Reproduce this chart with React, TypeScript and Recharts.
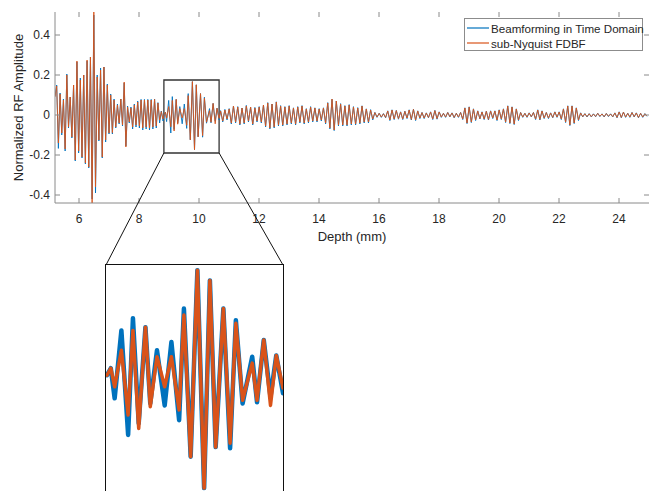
import { LineChart, Line, XAxis, YAxis, ReferenceArea } from "recharts";

// ---- data ----

const depthTicks = [6, 8, 10, 12, 14, 16, 18, 20, 22, 24];
const ampTicks = [-0.4, -0.2, 0, 0.2, 0.4];

// 5.2 mm -> 8.8 mm, evenly spaced extrema
const segAStart = 5.2;
const segAEnd = 8.8;
const fdbfA = [
  .09, .145, -.14, .105, -.09, .075, -.17, .2, -.06, .09, -.11, .15, -.225, .27, -.18, .175,
  -.21, .2, -.24, .275, -.26, .29, -.45, .52, -.36, .19, -.125, .225, -.21, .24, -.125, .15,
  -.09, .1, -.088, .075, -.06, .05, -.04, .08, -.05, .165, -.16, .04, -.035, .035, -.06, .05,
  -.05, .065, -.055, .075, -.065, .075, -.06, .075, -.065, .075, -.06, .078, -.055, .06, -.025,
  .017, -.02,
];
const tdbfA = [
  .095, .15, -.167, .11, -.1, .08, -.18, .205, -.065, .09, -.115, .15, -.23, .265, -.19, .185,
  -.215, .2, -.245, .27, -.265, .29, -.42, .5, -.39, .2, -.13, .235, -.215, .24, -.135, .155,
  -.095, .105, -.095, .08, -.065, .055, -.045, .08, -.055, .16, -.155, .045, -.04, .04, -.07,
  .055, -.06, .07, -.065, .078, -.075, .078, -.07, .078, -.075, .078, -.07, .08, -.065, .062,
  -.04, .02, -.03,
];

// zoomed window (also drawn in the inset)
const zoomDepth = [
  8.84, 8.88, 8.92, 8.99, 9.06, 9.11, 9.17, 9.24, 9.29, 9.36, 9.44, 9.51, 9.59, 9.64, 9.71,
  9.78, 9.85, 9.91, 9.97, 10.05, 10.12, 10.18, 10.25, 10.35, 10.4, 10.47, 10.54, 10.6, 10.67,
];
const zoomFdbf = [
  .003, .014, -.015, .042, -.059, .073, -.08, .078, -.046, .032, -.015, .032, -.051, .097,
  -.124, .167, -.173, .151, -.109, .107, -.103, .084, -.036, .022, -.036, .058, -.044, .034,
  -.017,
];
const zoomTdbf = [
  .003, .014, -.033, .073, -.09, .092, -.072, .078, -.041, .042, -.044, .055, -.067, .107,
  -.124, .167, -.173, .151, -.109, .107, -.111, .089, -.041, .032, -.039, .058, -.031, .034,
  -.025,
];

// 10.72 mm onwards, 14 extrema per mm
const segBStart = 10.72;
const segBStep = 1 / 14;
const fdbfB = [
  .02, -.03, .025, -.02,
  .03, -.04, .045, -.035, .04, -.045, .035, -.04, .045, -.03, .04, -.045, .035, -.03, // 11
  .04, -.035, .05, -.055, .06, -.065, .055, -.06, .065, -.05, .045, -.05, .04, -.045, // 12
  .045, -.04, .035, -.045, .04, -.035, .045, -.04, .03, -.035, .04, -.03, .035, -.03, // 13
  .03, -.025, .035, -.04, .06, -.065, .08, -.075, .07, -.05, .055, -.05, .045, -.05, // 14
  .05, -.045, .04, -.045, .035, -.04, .045, -.035, .03, -.035, .025, -.02, .012, -.01, // 15
  .008, -.01, .006, -.012, .02, -.025, .025, -.02, .022, -.018, .015, -.02, .018, -.015, // 16
  .025, -.022, .028, -.025, .02, -.015, .012, -.015, .01, -.012, .015, -.02, .022, -.018, // 17
  .015, -.01, .008, -.01, .012, -.008, .01, -.012, .008, -.01, .012, -.02, .035, -.04, // 18
  .04, -.035, .03, -.025, .02, -.018, .015, -.02, .018, -.022, .02, -.015, .02, -.025, // 19
  .025, -.02, .03, -.035, .045, -.04, .04, -.045, .03, -.025, .012, -.01, .008, -.01, // 20
  .01, -.008, .012, -.02, .025, -.022, .02, -.015, .012, -.015, .01, -.012, .015, -.01, // 21
  .015, -.02, .03, -.035, .045, -.05, .045, -.04, .035, -.025, .01, -.008, .006, -.008, // 22
  .006, -.008, .005, -.007, .008, -.006, .005, -.008, .007, -.006, .005, -.008, .01, -.012, // 23
  .015, -.012, .014, -.01, .008, -.01, .012, -.008, .01, -.012, .008, -.01, .006, -.005, // 24
];
const tdbfB = [
  .022, -.035, .028, -.025,
  .032, -.045, .045, -.04, .042, -.05, .035, -.045, .048, -.035, .04, -.05, .038, -.035,
  .042, -.04, .05, -.06, .062, -.07, .055, -.065, .066, -.055, .047, -.055, .042, -.05,
  .047, -.045, .036, -.05, .042, -.04, .047, -.045, .032, -.04, .042, -.035, .036, -.035,
  .032, -.03, .036, -.045, .062, -.07, .078, -.078, .07, -.055, .057, -.055, .047, -.055,
  .052, -.05, .042, -.05, .037, -.045, .046, -.04, .031, -.04, .027, -.025, .013, -.012,
  .009, -.012, .007, -.014, .021, -.028, .026, -.023, .023, -.021, .016, -.023, .019, -.018,
  .026, -.025, .029, -.028, .021, -.018, .013, -.018, .011, -.014, .016, -.023, .023, -.021,
  .016, -.012, .009, -.012, .013, -.01, .011, -.014, .009, -.012, .013, -.023, .036, -.043,
  .041, -.038, .031, -.028, .021, -.02, .016, -.023, .019, -.025, .021, -.018, .021, -.028,
  .026, -.023, .031, -.038, .046, -.043, .041, -.048, .031, -.028, .013, -.012, .009, -.012,
  .011, -.01, .013, -.023, .026, -.025, .021, -.018, .013, -.018, .011, -.014, .016, -.012,
  .016, -.023, .031, -.038, .046, -.053, .046, -.043, .036, -.028, .011, -.01, .007, -.01,
  .007, -.01, .006, -.009, .009, -.008, .006, -.01, .008, -.008, .006, -.01, .011, -.014,
  .016, -.014, .015, -.012, .009, -.012, .013, -.01, .011, -.014, .009, -.012, .007, -.007,
];

const zoomBox = { x1: 8.83, x2: 10.67, y1: -0.19, y2: 0.175 };

// ---- layout ----
const W = 649;
const H = 491;
const X_MIN = 5.2;
const X_MAX = 25;
const Y_MIN = -0.44;
const Y_MAX = 0.515;
const PLOT_LEFT = 55;
const PLOT_TOP = 12;
const PLOT_BOTTOM = 203;
const PLOT_RIGHT = W;
const MAIN_H = 250;
const INSET_LEFT = 106;
const INSET_TOP = 265;
const INSET_W = 177;
const INSET_H = 234;

const BLUE = "#0072BD";
const ORANGE = "#D95319";
const AXIS_GRAY = "#8a8a8a";
const INK = "#262626";
const FONT = "'Liberation Sans', Arial, Helvetica, sans-serif";

const stepA = (segAEnd - segAStart) / (fdbfA.length - 1);
const mainData = [
  ...fdbfA.map((v, i) => ({ depth: segAStart + i * stepA, fdbf: v, tdbf: tdbfA[i] })),
  ...zoomDepth.map((d, i) => ({ depth: d, fdbf: zoomFdbf[i], tdbf: zoomTdbf[i] })),
  ...fdbfB.map((v, i) => ({ depth: segBStart + i * segBStep, fdbf: v, tdbf: tdbfB[i] })),
];
const zoomData = zoomDepth.map((d, i) => ({ depth: d, fdbf: zoomFdbf[i], tdbf: zoomTdbf[i] }));

const px = (d: number) => PLOT_LEFT + ((d - X_MIN) / (X_MAX - X_MIN)) * (PLOT_RIGHT - PLOT_LEFT);
const py = (a: number) => PLOT_TOP + ((Y_MAX - a) / (Y_MAX - Y_MIN)) * (PLOT_BOTTOM - PLOT_TOP);

// eslint-disable-next-line @typescript-eslint/no-explicit-any
function DepthTick({ x, y, payload }: any) {
  return (
    <g>
      <line x1={x} x2={x} y1={PLOT_BOTTOM} y2={PLOT_BOTTOM - 5} stroke={AXIS_GRAY} />
      <line x1={x} x2={x} y1={PLOT_TOP} y2={PLOT_TOP + 5} stroke={AXIS_GRAY} />
      <text x={x} y={y} dy="0.71em" textAnchor="middle" fontSize={12} fill={INK} fontFamily={FONT}>
        {payload.value}
      </text>
    </g>
  );
}

// eslint-disable-next-line @typescript-eslint/no-explicit-any
function AmpTick({ x, y, payload }: any) {
  return (
    <g>
      <line x1={PLOT_LEFT} x2={PLOT_LEFT + 5} y1={y} y2={y} stroke={AXIS_GRAY} />
      <line x1={PLOT_RIGHT - 5} x2={PLOT_RIGHT} y1={y} y2={y} stroke={AXIS_GRAY} />
      <text x={x} y={y} dy="0.355em" textAnchor="end" fontSize={12} fill={INK} fontFamily={FONT}>
        {payload.value}
      </text>
    </g>
  );
}

export default function App() {
  return (
    <div
      style={{
        position: "absolute",
        left: 0,
        top: 0,
        width: W,
        height: H,
        overflow: "hidden",
        background: "#fff",
        fontFamily: FONT,
      }}
    >
      <LineChart
        width={W}
        height={MAIN_H}
        data={mainData}
        margin={{ top: PLOT_TOP, right: 0, bottom: MAIN_H - PLOT_BOTTOM - 30, left: 10 }}
      >
        <XAxis
          dataKey="depth"
          type="number"
          domain={[X_MIN, X_MAX]}
          ticks={depthTicks}
          allowDataOverflow
          height={30}
          tickSize={0}
          tickMargin={11}
          tickLine={false}
          axisLine={{ stroke: AXIS_GRAY }}
          tick={<DepthTick />}
        />
        <YAxis
          type="number"
          domain={[Y_MIN, Y_MAX]}
          ticks={ampTicks}
          allowDataOverflow
          width={45}
          tickSize={0}
          tickMargin={5}
          tickLine={false}
          axisLine={{ stroke: AXIS_GRAY }}
          tick={<AmpTick />}
        />
        <Line
          dataKey="tdbf"
          stroke={BLUE}
          strokeWidth={0.9}
          strokeLinejoin="round"
          dot={false}
          isAnimationActive={false}
        />
        <Line
          dataKey="fdbf"
          stroke={ORANGE}
          strokeWidth={0.9}
          strokeLinejoin="round"
          dot={false}
          isAnimationActive={false}
        />
        <ReferenceArea
          x1={zoomBox.x1}
          x2={zoomBox.x2}
          y1={zoomBox.y1}
          y2={zoomBox.y2}
          fill="none"
          fillOpacity={0}
          stroke="#333"
          strokeWidth={1.3}
          ifOverflow="visible"
        />
      </LineChart>

      {/* inset */}
      <div
        style={{
          position: "absolute",
          left: INSET_LEFT - 1,
          top: INSET_TOP - 1,
          width: INSET_W,
          height: INSET_H,
          border: "1px solid #111",
          overflow: "hidden",
          background: "#fff",
        }}
      >
        <LineChart width={INSET_W} height={INSET_H} data={zoomData} margin={{ top: 0, right: 0, bottom: 0, left: 0 }}>
          <XAxis dataKey="depth" type="number" domain={[zoomBox.x1, zoomBox.x2]} hide />
          <YAxis type="number" domain={[zoomBox.y1, zoomBox.y2]} hide />
          <Line
            dataKey="tdbf"
            stroke={BLUE}
            strokeWidth={4.5}
            strokeLinejoin="round"
            strokeLinecap="round"
            dot={false}
            isAnimationActive={false}
          />
          <Line
            dataKey="fdbf"
            stroke={ORANGE}
            strokeWidth={3.5}
            strokeLinejoin="round"
            strokeLinecap="round"
            dot={false}
            isAnimationActive={false}
          />
        </LineChart>
      </div>

      {/* connectors and axis titles */}
      <svg
        width={W}
        height={H}
        style={{ position: "absolute", left: 0, top: 0, pointerEvents: "none" }}
      >
        <line x1={px(zoomBox.x1)} y1={py(zoomBox.y1)} x2={INSET_LEFT} y2={INSET_TOP} stroke="#111" strokeWidth={1} />
        <line
          x1={px(zoomBox.x2)}
          y1={py(zoomBox.y1)}
          x2={INSET_LEFT + INSET_W}
          y2={INSET_TOP}
          stroke="#111"
          strokeWidth={1}
        />
        <text x={(PLOT_LEFT + PLOT_RIGHT) / 2} y={241} textAnchor="middle" fontSize={13} fill={INK} fontFamily={FONT}>
          Depth (mm)
        </text>
        <text
          x={0}
          y={0}
          transform={`translate(23, ${(PLOT_TOP + PLOT_BOTTOM) / 2}) rotate(-90)`}
          textAnchor="middle"
          fontSize={13}
          fill={INK}
          fontFamily={FONT}
        >
          Normalized RF Amplitude
        </text>
      </svg>

      {/* legend */}
      <div
        style={{
          position: "absolute",
          left: 464,
          top: 18,
          width: 179,
          height: 33,
          border: "1px solid #8c8c8c",
          background: "#fff",
          boxSizing: "border-box",
          fontSize: 11.6,
          color: INK,
        }}
      >
        {[
          { name: "Beamforming in Time Domain", color: BLUE },
          { name: "sub-Nyquist FDBF", color: ORANGE },
        ].map((item, i) => (
          <div
            key={item.name}
            style={{
              position: "absolute",
              left: 1,
              top: 2 + i * 15,
              height: 14,
              display: "flex",
              alignItems: "center",
              whiteSpace: "nowrap",
            }}
          >
            <svg width={24} height={14}>
              <line x1={1} x2={23} y1={7} y2={7} stroke={item.color} strokeWidth={1.2} />
            </svg>
            <span style={{ marginLeft: 1 }}>{item.name}</span>
          </div>
        ))}
      </div>
    </div>
  );
}
